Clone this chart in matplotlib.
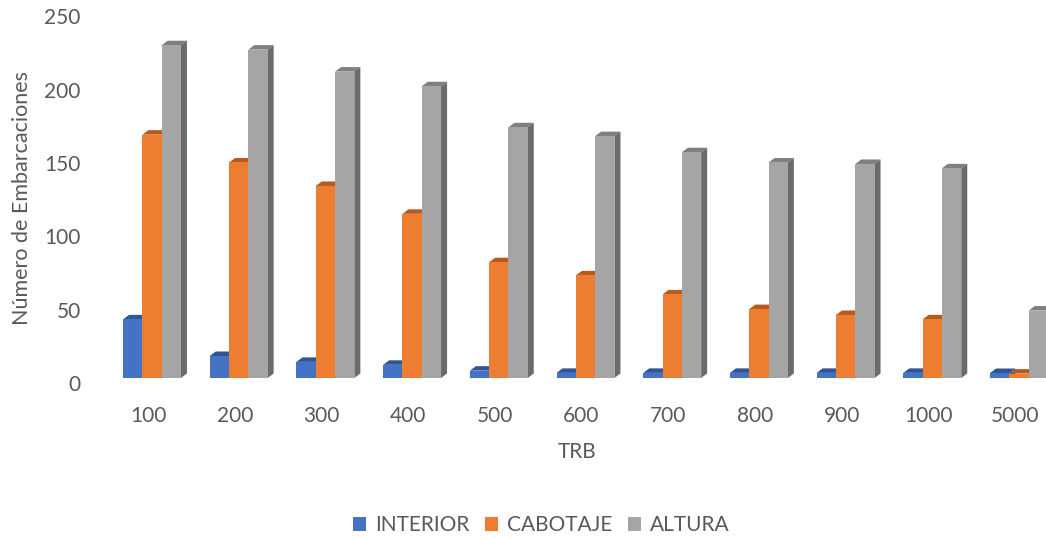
import matplotlib
matplotlib.use("Agg")
import matplotlib.pyplot as plt
from matplotlib.patches import Polygon, Patch
from matplotlib.transforms import ScaledTranslation
import numpy as np

categories = ["100", "200", "300", "400", "500", "600", "700", "800", "900", "1000", "5000"]
interior = [40, 15, 11, 9, 5, 3.5, 3.5, 3.5, 3.5, 3.5, 3.4]
cabotaje = [166, 147, 131, 112, 79, 70, 57, 47, 43, 40, 3]
altura = [227, 224, 209, 199, 171, 165, 154, 147, 146, 143, 46]

series = [
    ("INTERIOR", interior, "#4472C4", "#2F5597", "#2F5597"),
    ("CABOTAJE", cabotaje, "#ED7D31", "#B85A1D", "#B85A1D"),
    ("ALTURA", altura, "#A5A5A5", "#7F7F7F", "#6B6B6B"),
]

plt.rcParams['font.family'] = ['Lato', 'DejaVu Sans']
W, H = 1046, 540
fig = plt.figure(figsize=(W / 100, H / 100), dpi=100)

# axes placed in pixels: left 110, right 1046, bottom 378, top 10
ax = fig.add_axes([110 / W, 1 - 378 / H, (1046 - 110) / W, (378 - 10) / H])
px_per_cat = 86.7
px_per_unit = 1.466
ax.set_xlim((110 - 152) / px_per_cat, (1046 - 152) / px_per_cat)
ax.set_ylim(0, (378 - 10) / px_per_unit)

w = 19.3 / px_per_cat
dx = 6.0 / px_per_cat
dy = 4.5 / px_per_unit
x = np.arange(len(categories))

for k, (name, vals, front, top, side) in enumerate(series):
    left = x + (k - 1.5) * w
    for xl, v in zip(left, vals):
        xr = xl + w
        ax.add_patch(Polygon([(xl, v), (xr, v), (xr + dx, v + dy), (xl + dx, v + dy)],
                             closed=True, facecolor=top, edgecolor='none'))
        ax.add_patch(Polygon([(xr, 0), (xr + dx, dy), (xr + dx, v + dy), (xr, v)],
                             closed=True, facecolor=side, edgecolor='none'))
    ax.bar(left, vals, width=w, align='edge', color=front, edgecolor='none')

for s in ax.spines.values():
    s.set_visible(False)

fs = 15
ax.set_xticks(x)
ax.set_xticklabels(categories)
ax.set_yticks(range(0, 251, 50))
ax.tick_params(axis='both', length=0, labelsize=fs, labelcolor='#595959')
ax.tick_params(axis='x', pad=20)
ax.tick_params(axis='y', pad=21)

for lab in ax.get_xticklabels():
    lab.set_transform(lab.get_transform() + ScaledTranslation(-4 / 100, 0, fig.dpi_scale_trans))
for lab in ax.get_yticklabels():
    lab.set_transform(lab.get_transform() + ScaledTranslation(0, -5 / 100, fig.dpi_scale_trans))

fig.text(22 / W, 1 - 198 / H, "Número de Embarcaciones", rotation=90,
         ha='center', va='center', fontsize=15.5, color='#595959')
fig.text(577 / W, 1 - 452 / H, "TRB", ha='center', va='center',
         fontsize=fs, color='#595959')

handles = [Patch(facecolor=c, edgecolor='none') for _, _, c, _, _ in series]
labels = [n for n, _, _, _, _ in series]
leg = fig.legend(handles, labels, loc='center', bbox_to_anchor=(541 / W, 1 - 525 / H),
                 ncol=3, frameon=False, fontsize=fs, handlelength=0.65, handleheight=0.65,
                 handletextpad=0.4, columnspacing=0.75)
for t in leg.get_texts():
    t.set_color('#595959')

fig.savefig("out.png", dpi=100)
